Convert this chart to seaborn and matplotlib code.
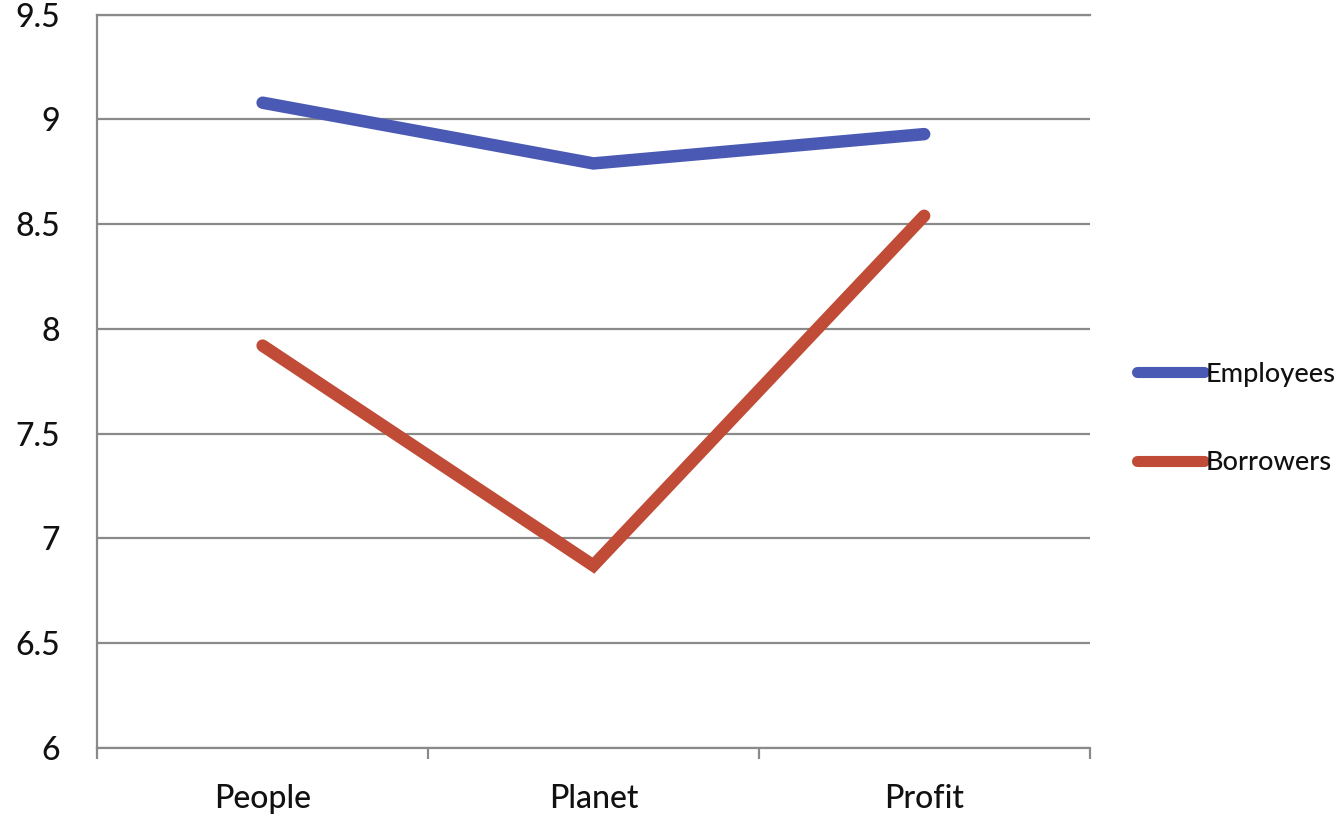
import matplotlib
matplotlib.use("Agg")
import matplotlib.pyplot as plt
import seaborn as sns
import pandas as pd

# Average ratings per pillar
categories = ["People", "Planet", "Profit"]
employees = [9.08, 8.79, 8.93]
borrowers = [7.92, 6.87, 8.54]
series_names = ["Employees", "Borrowers"]
y_ticks = [6, 6.5, 7, 7.5, 8, 8.5, 9, 9.5]
y_tick_labels = ["6", "6.5", "7", "7.5", "8", "8.5", "9", "9.5"]

df = pd.DataFrame({
    "pillar": categories * 2,
    "score": employees + borrowers,
    "group": [series_names[0]] * len(categories) + [series_names[1]] * len(categories),
})

sns.set_theme(style="white")
plt.rcParams["font.family"] = ["Lato", "DejaVu Sans"]
plt.rcParams["font.weight"] = "medium"

grid_color = "#8a8a8a"
palette = {"Employees": "#4A5AB4", "Borrowers": "#C04B36"}

fig = plt.figure(figsize=(13.41, 8.19), dpi=100)
ax = fig.add_axes([0.0725, 0.087, 0.740, 0.895])

sns.lineplot(data=df, x="pillar", y="score", hue="group", palette=palette,
             sort=False, linewidth=9, solid_capstyle="round",
             solid_joinstyle="miter", legend=False, ax=ax, zorder=3)

ax.set_xlim(-0.5, 2.5)
ax.set_ylim(6, 9.5)
ax.set_yticks(y_ticks)
ax.set_yticklabels(y_tick_labels)
ax.set_xlabel("")
ax.set_ylabel("")

ax.yaxis.grid(True, color=grid_color, linewidth=1.6)
ax.xaxis.grid(False)
for side in ["left", "bottom", "top"]:
    ax.spines[side].set_visible(True)
    ax.spines[side].set_color(grid_color)
    ax.spines[side].set_linewidth(1.6)
ax.spines["right"].set_visible(False)

# category separators as small downward ticks
ax.set_xticks([-0.5, 0.5, 1.5, 2.5], minor=True)
ax.tick_params(axis="x", which="minor", length=8, width=1.6, color=grid_color,
               direction="out", bottom=True)
ax.tick_params(axis="x", which="major", length=0, pad=26, labelsize=23,
               labelcolor="#111111")
ax.tick_params(axis="y", which="major", length=0, pad=27, labelsize=23,
               labelcolor="#111111")

handles = ax.get_lines()[:2]
leg = fig.legend(handles, series_names, loc="center left",
                 bbox_to_anchor=(0.848, 0.489), frameon=False,
                 fontsize=19.5, handlelength=2.45, handletextpad=0.08,
                 labelspacing=2.35, borderpad=0, borderaxespad=0)
for line in leg.get_lines():
    line.set_linewidth(8)
    line.set_solid_capstyle("round")
for t in leg.get_texts():
    t.set_color("#111111")

fig.savefig("out.png", dpi=100, facecolor="white")
